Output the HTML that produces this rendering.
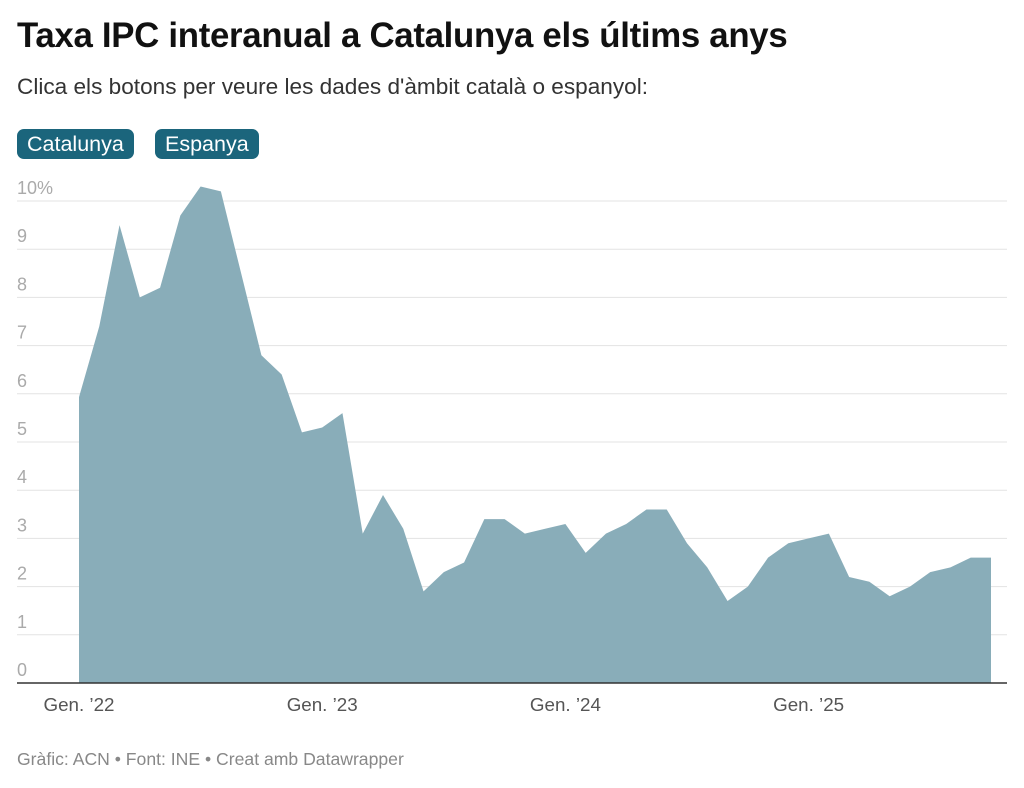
<!DOCTYPE html>
<html><head><meta charset="utf-8">
<style>
body{margin:0;width:1024px;height:788px;background:#fff;font-family:"Liberation Sans",sans-serif;overflow:hidden;position:relative}
#title{position:absolute;left:17px;top:16px;font-size:34.8px;font-weight:bold;color:#111;letter-spacing:-0.3px}
#sub{position:absolute;left:17px;top:74px;font-size:22.6px;color:#333}
.btn{position:absolute;top:129px;height:30px;line-height:30px;background:#1b657c;color:#fff;font-size:21.5px;padding:0 10px;border-radius:7px}
#foot{position:absolute;left:17px;top:749px;font-size:17.6px;color:#888}
svg{position:absolute;left:0;top:0}
</style></head><body>
<div id="title">Taxa IPC interanual a Catalunya els últims anys</div>
<div id="sub">Clica els botons per veure les dades d'àmbit català o espanyol:</div>
<div class="btn" style="left:17px">Catalunya</div>
<div class="btn" style="left:155px">Espanya</div>
<svg id="chart" width="1024" height="788"></svg>
<div id="foot">Gràfic: ACN • Font: INE • Creat amb Datawrapper</div>
<script>
const values=[5.93,7.4,9.5,8.0,8.2,9.7,10.3,10.2,8.5,6.8,6.4,5.2,5.3,5.6,3.1,3.9,3.2,1.9,2.3,2.5,3.4,3.4,3.1,3.2,3.3,2.7,3.1,3.3,3.6,3.6,2.9,2.4,1.7,2.0,2.6,2.9,3.0,3.1,2.2,2.1,1.8,2.0,2.3,2.4,2.6,2.6];
const yTicks=[0,1,2,3,4,5,6,7,8,9,10];
const xLabels=["Gen. ’22","Gen. ’23","Gen. ’24","Gen. ’25"];
const xLabelIdx=[0,12,24,36];
const NS="http://www.w3.org/2000/svg";
const svg=document.getElementById('chart');
const x0=79,x1=991,y0=683,y10=201;
const xs=i=>x0+(x1-x0)*i/(values.length-1);
const ys=v=>y0-(y0-y10)*v/10;
function mk(t,a){const e=document.createElementNS(NS,t);for(const k in a)e.setAttribute(k,a[k]);svg.appendChild(e);return e;}
yTicks.forEach(t=>{
  if(t>0){const l=mk('line',{x1:17,x2:1007,y1:ys(t),y2:ys(t),stroke:'#e3e3e3','stroke-width':1});
  
  }
  const tx=mk('text',{x:17,y:ys(t)-7,'font-size':18,fill:'#aaa','font-family':'Liberation Sans, sans-serif'});
  tx.textContent=t===10?'10%':String(t);
  
  
});
let d='M'+xs(0)+','+y0;
values.forEach((v,i)=>{d+=' L'+xs(i)+','+ys(v);});
d+=' L'+xs(values.length-1)+','+y0+' Z';
const area=mk('path',{d:d,fill:'#89adb9'});


const base=mk('line',{x1:17,x2:1007,y1:y0,y2:y0,stroke:'#333','stroke-width':1.5});


xLabels.forEach((lb,k)=>{
  const tx=mk('text',{x:xs(xLabelIdx[k]),y:711,'font-size':18.8,fill:'#555','text-anchor':'middle','font-family':'Liberation Sans, sans-serif'});
  tx.textContent=lb;
  
  
});
</script>
</body></html>
